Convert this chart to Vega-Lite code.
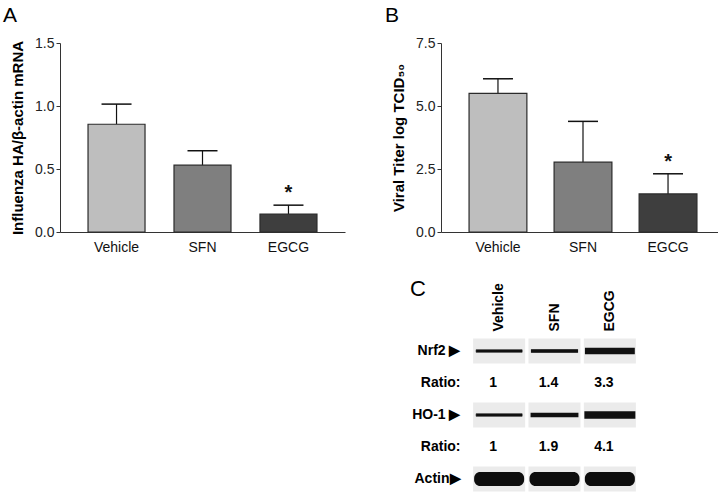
{
  "$schema": "https://vega.github.io/schema/vega-lite/v6.json",
  "padding": {"left": 3, "top": 5, "right": 0, "bottom": 0},
  "background": "white",
  "config": {
    "font": "Liberation Sans",
    "view": {"stroke": null},
    "title": {"fontSize": 21, "fontWeight": "normal", "color": "#000", "anchor": "start", "frame": "group"}
  },
  "datasets": {
    "mrna": [
      {"treatment": "Vehicle", "mean": 0.855, "upper": 1.015},
      {"treatment": "SFN", "mean": 0.53, "upper": 0.645},
      {"treatment": "EGCG", "mean": 0.143, "upper": 0.213, "sig": "*", "sig_y": 0.35}
    ],
    "titer": [
      {"treatment": "Vehicle", "mean": 5.5, "upper": 6.08},
      {"treatment": "SFN", "mean": 2.77, "upper": 4.39},
      {"treatment": "EGCG", "mean": 1.51, "upper": 2.31, "sig": "*", "sig_y": 2.98}
    ],
    "blot": [
      {"lane": "Vehicle", "row": "Nrf2", "ratio": 1},
      {"lane": "SFN", "row": "Nrf2", "ratio": 1.4},
      {"lane": "EGCG", "row": "Nrf2", "ratio": 3.3},
      {"lane": "Vehicle", "row": "HO-1", "ratio": 1},
      {"lane": "SFN", "row": "HO-1", "ratio": 1.9},
      {"lane": "EGCG", "row": "HO-1", "ratio": 4.1},
      {"lane": "Vehicle", "row": "Actin", "ratio": 1},
      {"lane": "SFN", "row": "Actin", "ratio": 1},
      {"lane": "EGCG", "row": "Actin", "ratio": 1}
    ],
    "ratios": [
      {"lane": "Vehicle", "row": "Ratio1", "label": "1"},
      {"lane": "SFN", "row": "Ratio1", "label": "1.4"},
      {"lane": "EGCG", "row": "Ratio1", "label": "3.3"},
      {"lane": "Vehicle", "row": "Ratio2", "label": "1"},
      {"lane": "SFN", "row": "Ratio2", "label": "1.9"},
      {"lane": "EGCG", "row": "Ratio2", "label": "4.1"}
    ]
  },
  "spacing": 23,
  "vconcat": [
    {
      "spacing": 40,
      "hconcat": [
        {
          "width": 285,
          "height": 189,
          "title": {"text": "A", "dx": -57, "offset": 10},
          "data": {"name": "mrna"},
          "encoding": {
            "x": {"field": "treatment", "type": "nominal", "sort": ["Vehicle", "SFN", "EGCG"],
              "scale": {"paddingInner": 0.337, "paddingOuter": 0.326},
              "axis": {"title": null, "labelAngle": 0, "ticks": false, "labelFontSize": 14, "labelColor": "#111", "labelPadding": 8, "domainColor": "#333"}}
          },
          "layer": [
            {
              "mark": {"type": "rule", "color": "#111", "strokeWidth": 1.2},
              "encoding": {
                "y": {"field": "mean", "type": "quantitative"},
                "y2": {"field": "upper"}
              }
            },
            {
              "mark": {"type": "tick", "orient": "horizontal", "color": "#111", "opacity": 1, "thickness": 1.5, "size": 30},
              "encoding": {"y": {"field": "upper", "type": "quantitative"}}
            },
            {
              "mark": {"type": "bar", "stroke": "#2a2a2a", "strokeWidth": 1.2},
              "encoding": {
                "y": {"field": "mean", "type": "quantitative",
                  "scale": {"domain": [0, 1.5], "nice": false},
                  "axis": {"title": "Influenza HA/β-actin mRNA", "titleFontSize": 15, "titleFontWeight": "bold", "titleColor": "#000", "titlePadding": 9,
                    "values": [0, 0.5, 1, 1.5], "format": ".1f", "labelFontSize": 14, "labelColor": "#222", "labelPadding": 2,
                    "tickSize": 4, "tickColor": "#333", "domainColor": "#333", "grid": false}},
                "color": {"field": "treatment", "type": "nominal", "scale": {"domain": ["Vehicle", "SFN", "EGCG"], "range": ["#bebebe", "#7f7f7f", "#3e3e3e"]}, "legend": null}
              }
            },
            {
              "transform": [{"filter": "datum.sig"}],
              "mark": {"type": "text", "fontSize": 20, "fontWeight": "bold", "baseline": "middle", "dy": 5, "color": "#111"},
              "encoding": {
                "y": {"field": "sig_y", "type": "quantitative"},
                "text": {"field": "sig"}
              }
            }
          ]
        },
        {
          "width": 284,
          "height": 189,
          "title": {"text": "B", "dx": -56, "offset": 10},
          "data": {"name": "titer"},
          "encoding": {
            "x": {"field": "treatment", "type": "nominal", "sort": ["Vehicle", "SFN", "EGCG"],
              "scale": {"paddingInner": 0.32, "paddingOuter": 0.33},
              "axis": {"title": null, "labelAngle": 0, "ticks": false, "labelFontSize": 14, "labelColor": "#111", "labelPadding": 8, "domainColor": "#333"}}
          },
          "layer": [
            {
              "mark": {"type": "rule", "color": "#111", "strokeWidth": 1.2},
              "encoding": {
                "y": {"field": "mean", "type": "quantitative"},
                "y2": {"field": "upper"}
              }
            },
            {
              "mark": {"type": "tick", "orient": "horizontal", "color": "#111", "opacity": 1, "thickness": 1.5, "size": 30},
              "encoding": {"y": {"field": "upper", "type": "quantitative"}}
            },
            {
              "mark": {"type": "bar", "stroke": "#2a2a2a", "strokeWidth": 1.2},
              "encoding": {
                "y": {"field": "mean", "type": "quantitative",
                  "scale": {"domain": [0, 7.5], "nice": false},
                  "axis": {"title": "Viral Titer log TCID₅₀", "titleFontSize": 15, "titleFontWeight": "bold", "titleColor": "#000", "titlePadding": 9,
                    "values": [0, 2.5, 5, 7.5], "format": ".1f", "labelFontSize": 14, "labelColor": "#222", "labelPadding": 2,
                    "tickSize": 4, "tickColor": "#333", "domainColor": "#333", "grid": false}},
                "color": {"field": "treatment", "type": "nominal", "scale": {"domain": ["Vehicle", "SFN", "EGCG"], "range": ["#bebebe", "#7f7f7f", "#3e3e3e"]}, "legend": null}
              }
            },
            {
              "transform": [{"filter": "datum.sig"}],
              "mark": {"type": "text", "fontSize": 20, "fontWeight": "bold", "baseline": "middle", "dy": 5, "color": "#111"},
              "encoding": {
                "y": {"field": "sig_y", "type": "quantitative"},
                "text": {"field": "sig"}
              }
            }
          ]
        }
      ]
    },
    {
      "spacing": 0,
      "hconcat": [
        {
          "width": 350,
          "height": 10,
          "data": {"values": []},
          "mark": "point",
          "encoding": {}
        },
        {
          "width": 165,
          "height": 160,
          "title": {"text": "C", "dx": -62, "offset": -18, "fontSize": 22},
          "layer": [
            {
              "data": {"name": "blot"},
              "mark": {"type": "rect", "color": "#ebebeb"},
              "encoding": {
                "x": {"field": "lane", "type": "nominal",
                  "scale": {"domain": ["Vehicle", "SFN", "EGCG"], "paddingInner": 0.06, "paddingOuter": 0.02},
                  "axis": {"orient": "top", "title": null, "labelAngle": -90, "labelFontWeight": "bold", "labelFontSize": 14, "labelColor": "#000", "ticks": false, "domain": false, "labelPadding": 4}},
                "y": {"field": "row", "type": "nominal",
                  "scale": {"domain": ["Nrf2", "Ratio1", "HO-1", "Ratio2", "Actin"], "paddingInner": 0.22, "paddingOuter": 0.11},
                  "axis": {"title": null, "labelExpr": "indexof(datum.value, 'Ratio') == 0 ? 'Ratio:' : (datum.value == 'Actin' ? 'Actin▶' : datum.value + ' ▶')",
                    "labelFontWeight": "bold", "labelFontSize": 14, "labelColor": "#000", "ticks": false, "domain": false, "labelPadding": 12}}
              }
            },
            {
              "data": {"name": "blot"},
              "transform": [{"filter": "datum.row != 'Actin'"}],
              "mark": {"type": "tick", "orient": "horizontal", "thickness": 2.5, "opacity": 1, "color": "#111", "stroke": "#111"},
              "encoding": {
                "x": {"field": "lane", "type": "nominal"},
                "y": {"field": "row", "type": "nominal"},
                "size": {"value": 46},
                "strokeWidth": {"field": "ratio", "type": "quantitative", "scale": {"domain": [1, 4.1], "range": [0.6, 5]}, "legend": null}
              }
            },
            {
              "data": {"name": "blot"},
              "transform": [{"filter": "datum.row == 'Actin'"}],
              "mark": {"type": "tick", "orient": "horizontal", "thickness": 14, "opacity": 1, "color": "#0d0d0d", "cornerRadius": 6},
              "encoding": {
                "x": {"field": "lane", "type": "nominal"},
                "y": {"field": "row", "type": "nominal"},
                "size": {"value": 50}
              }
            },
            {
              "data": {"name": "ratios"},
              "mark": {"type": "text", "fontWeight": "bold", "fontSize": 14, "dx": -6, "color": "#000"},
              "encoding": {
                "x": {"field": "lane", "type": "nominal"},
                "y": {"field": "row", "type": "nominal"},
                "text": {"field": "label"}
              }
            }
          ]
        }
      ]
    }
  ]
}
